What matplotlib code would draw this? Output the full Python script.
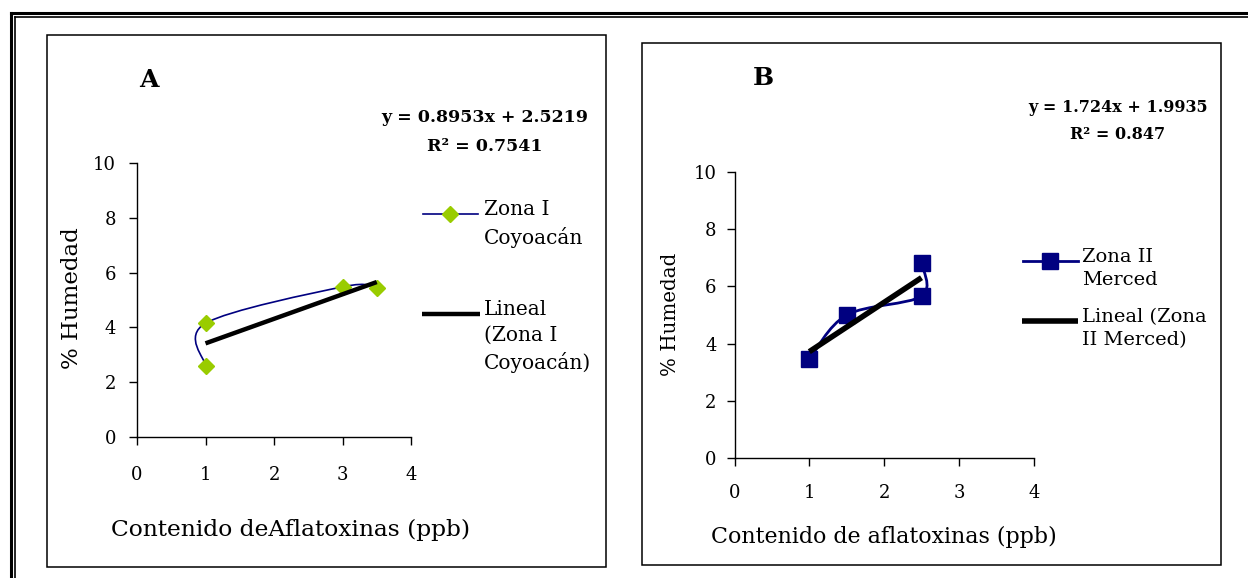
import numpy as np
import matplotlib
matplotlib.use("Agg")
import matplotlib.pyplot as plt
from matplotlib.path import Path
from matplotlib.patches import PathPatch, Rectangle
from matplotlib.lines import Line2D

# Datos del panel A (Zona I Coyoacán)
xA = [1, 1, 3, 3.5]
yA = [2.6, 4.15, 5.48, 5.45]
pendA, ordA = 0.8953, 2.5219
ecA = "y = 0.8953x + 2.5219\nR² = 0.7541"
leyA1 = "Zona I\nCoyoacán"
leyA2 = "Lineal\n(Zona I\nCoyoacán)"
xlabA = "Contenido deAflatoxinas (ppb)"

# Datos del panel B (Zona II Merced)
xB = [1, 1.5, 2.5, 2.5]
yB = [3.45, 5.0, 5.66, 6.82]
pendB, ordB = 1.724, 1.9935
ecB = "y = 1.724x + 1.9935\nR² = 0.847"
leyB1 = "Zona II\nMerced"
leyB2 = "Lineal (Zona\nII Merced)"
xlabB = "Contenido de aflatoxinas (ppb)"

xticks = [0, 1, 2, 3, 4]
yticks = [0, 2, 4, 6, 8, 10]

W, H = 1248, 578
plt.rcParams['font.family'] = ['DejaVu Serif']

fig = plt.figure(figsize=(W / 100, H / 100), dpi=100)


def px(x, y):
    # convierte pixeles (desde arriba a la izquierda) a fraccion de figura
    return x / W, 1 - y / H


def linea_fig(xs, ys, **kw):
    fx = [x / W for x in xs]
    fy = [1 - y / H for y in ys]
    fig.add_artist(Line2D(fx, fy, transform=fig.transFigure, **kw))


def suave(ax, xs, ys, color, lw):
    # curva suavizada tipo Excel con Bezier cubicas
    P = np.column_stack([xs, ys]).astype(float)
    n = len(P)
    verts = [P[0]]
    codes = [Path.MOVETO]
    for i in range(n - 1):
        p_prev = P[i - 1] if i > 0 else P[i]
        p_next = P[i + 2] if i + 2 < n else P[i + 1]
        c1 = P[i] + (P[i + 1] - p_prev) / 6
        c2 = P[i + 1] - (p_next - P[i]) / 6
        verts += [c1, c2, P[i + 1]]
        codes += [Path.CURVE4] * 3
    ax.add_patch(PathPatch(Path(verts, codes), facecolor='none', edgecolor=color, lw=lw, zorder=2))


def ejes(rect, xpad, ypad):
    ax = fig.add_axes(rect)
    ax.set_xlim(0, 4)
    ax.set_ylim(0, 10)
    ax.set_xticks(xticks)
    ax.set_yticks(yticks)
    for s in ['top', 'right']:
        ax.spines[s].set_visible(False)
    for s in ['left', 'bottom']:
        ax.spines[s].set_linewidth(1.0)
    ax.tick_params(axis='x', length=6, width=1.0, pad=xpad, labelsize=13)
    ax.tick_params(axis='y', length=6, width=1.0, pad=ypad, labelsize=13)
    ax.patch.set_alpha(0)
    return ax


# Marco doble exterior
linea_fig([10.5, 10.5], [12.5, H + 5], color='black', lw=2.2)
linea_fig([10.5, W + 5], [12.5, 12.5], color='black', lw=2.2)
linea_fig([15.5, 15.5], [17, H + 5], color='black', lw=1.2)
linea_fig([15.5, W + 5], [17, 17], color='black', lw=1.2)

# Recuadros de cada panel
for (x0, y0, x1, y1) in [(47, 35, 605.5, 566.5), (642, 43, 1221, 565)]:
    fx, fy = px(x0, y1)
    fig.add_artist(Rectangle((fx, fy), (x1 - x0) / W, (y1 - y0) / H, transform=fig.transFigure,
                             facecolor='none', edgecolor='black', lw=1.1))

# ---------- Panel A ----------
l, b = px(137, 437)
axA = ejes([l, b, (411 - 137) / W, (437 - 163) / H], xpad=15, ypad=9)
suave(axA, xA, yA, '#000080', 1.2)
axA.plot(xA, yA, linestyle='none', marker='D', markersize=8, color='#99CC00', zorder=3)
xt = np.array([min(xA), max(xA)])
axA.plot(xt, pendA * xt + ordA, color='black', lw=3.2, zorder=4, solid_capstyle='butt')

fig.text(*px(149, 80), "A", fontsize=18, fontweight='bold', ha='center', va='center')
fig.text(*px(485, 132), ecA, fontsize=12.5, fontweight='bold', ha='center', va='center',
         multialignment='center', linespacing=1.85)
fig.text(*px(72, 298), "% Humedad", fontsize=16.5, rotation=90, ha='center', va='center')
fig.text(*px(291, 530), xlabA, fontsize=16.8, ha='center', va='center')

# leyenda A
linea_fig([423, 478], [214, 214], color='#000080', lw=1.2)
linea_fig([450], [214], marker='D', markersize=8, color='#99CC00', linestyle='none')
fig.text(*px(484, 200), leyA1, fontsize=14.5, ha='left', va='top', linespacing=1.45)
linea_fig([422, 480], [314, 314], color='black', lw=3.2, solid_capstyle='butt')
fig.text(*px(484, 300), leyA2, fontsize=14.5, ha='left', va='top', linespacing=1.45)

# ---------- Panel B ----------
l, b = px(734.5, 458)
axB = ejes([l, b, (1033.7 - 734.5) / W, (458 - 172) / H], xpad=13, ypad=7)
suave(axB, xB, yB, '#000080', 2.0)
axB.plot(xB, yB, linestyle='none', marker='s', markersize=11.5, color='#000080', zorder=3)
xt = np.array([min(xB), max(xB)])
axB.plot(xt, pendB * xt + ordB, color='black', lw=4.0, zorder=4, solid_capstyle='butt')

fig.text(*px(763, 78), "B", fontsize=18, fontweight='bold', ha='center', va='center')
fig.text(*px(1118, 121), ecB, fontsize=11.5, fontweight='bold', ha='center', va='center',
         multialignment='center', linespacing=1.7)
fig.text(*px(671, 314), "% Humedad", fontsize=14.3, rotation=90, ha='center', va='center')
fig.text(*px(884, 537), xlabB, fontsize=15.9, ha='center', va='center')

# leyenda B
linea_fig([1022.5, 1077.7], [260.6, 260.6], color='#000080', lw=2.0)
linea_fig([1050], [260.6], marker='s', markersize=11.5, color='#000080', linestyle='none')
fig.text(*px(1082, 248), leyB1, fontsize=14, ha='left', va='top', linespacing=1.35)
linea_fig([1022, 1078], [321, 321], color='black', lw=4.0, solid_capstyle='butt')
fig.text(*px(1082, 308), leyB2, fontsize=14, ha='left', va='top', linespacing=1.35)

fig.savefig("out.png", dpi=100)
